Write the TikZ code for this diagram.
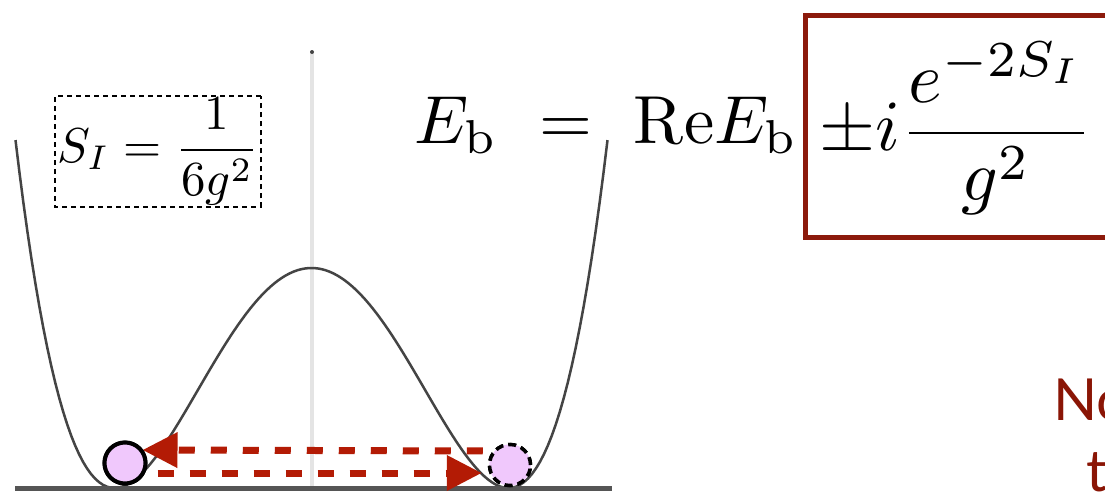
\documentclass[tikz,border=0pt]{standalone}
\usepackage{amsmath}
\usepackage{fontspec}
\newfontfamily\notefont{Lato}
\usetikzlibrary{arrows.meta, calc}
\definecolor{potGray}{HTML}{444444}
\definecolor{axisGray}{HTML}{E4E4E4}
\definecolor{baseGray}{HTML}{555555}
\definecolor{arrowRed}{HTML}{B31B05}
\definecolor{boxRed}{HTML}{8C1A0C}
\definecolor{noteRed}{HTML}{8A1505}
\definecolor{ballPink}{HTML}{F0C8FC}
\tikzset{
  potLine/.style={potGray, line width=2.5pt},
  axisLine/.style={axisGray, line width=4pt},
  baseLine/.style={baseGray, line width=5pt},
  arrowT/.style={-{Triangle[length=35pt, width=34pt]}, arrowRed,
                 line width=7pt, dash pattern=on 16pt off 16pt},
  ballA/.style={circle, fill=ballPink, draw=black, line width=4pt,
                minimum size=41pt, inner sep=0pt},
  ballB/.style={ballA, line width=3.5pt, dash pattern=on 8pt off 5pt},
  bigMath/.style={scale=6.8, inner sep=0pt},
  actionBox/.style={draw=black, line width=2pt, dash pattern=on 5pt off 4pt,
                    scale=4.9, inner sep=0.4pt},
  corrBox/.style={draw=boxRed, line width=5pt, minimum height=222pt,
                  minimum width=440pt, inner sep=0pt},
  noteText/.style={text=noteRed, font=\notefont\fontsize{58}{70}\selectfont,
                   inner sep=0pt, anchor=base west},
}
\begin{document}
\begin{tikzpicture}[x=1pt, y=-1pt]
  \clip (0,0) rectangle (1105,493);
  \fill[white] (0,0) rectangle (1105,493);
  % potencial de doble pozo
  \draw[axisLine] (312,52) -- (312,488);
  \fill[potGray] (312,52) circle (2pt);
  \draw[potLine] plot[domain=-296:296, samples=150]
    ({311.5+\x}, {488-220*((\x/197)^2-1)^2});
  \draw[baseLine] (15,488) -- (612,488);
  % accion del instanton
  \node[actionBox] (action) at (158,151.5) {$\displaystyle S_I=\frac{1}{6g^2}$};
  % energia
  \node[bigMath, anchor=base west] (energy) at (413,143)
    {$\displaystyle E_{\mathrm{b}}\mskip6mu=\mskip6mu\mathrm{Re}E_{\mathrm{b}}$};
  \node[corrBox, anchor=north west] (corr) at (803,12.5) {};
  \node[bigMath, scale=7.2/6.8, anchor=west] (corrText) at ([xshift=15pt, yshift=-2pt]corr.west)
    {$\displaystyle\pm i\frac{e^{-2S_I}}{g^2}$};
  % bolas y tunel
  \node[ballA] (ballL) at (125,463) {};
  \node[ballB] (ballR) at (510,465) {};
  \draw[arrowT, shorten <=5pt, shorten >=-5pt]
    ([yshift=14pt]ballR.west) -- ([yshift=13pt]ballL.east);
  \draw[arrowT, shorten <=10pt, shorten >=6pt]
    ([yshift=-10pt]ballL.east) -- ([yshift=-8pt]ballR.west);
  \node[ballA] at (ballL) {};
  \node[ballB] at (ballR) {};
  % nota
  \node[noteText] (noteA) at (1053,420) {No};
  \node[noteText] (noteB) at (1086,491) {t};
\end{tikzpicture}
\end{document}
